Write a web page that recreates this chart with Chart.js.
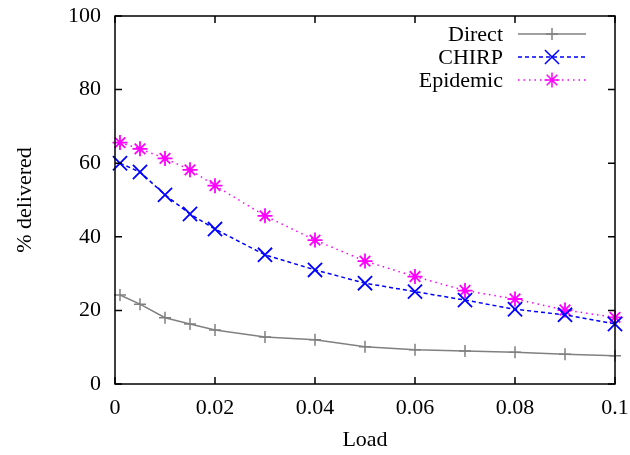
<!DOCTYPE html>
<html><head><meta charset="utf-8">
<script src="https://cdn.jsdelivr.net/npm/chart.js@4"></script>
<style>html,body{margin:0;padding:0;background:#fff}#w{width:630px;height:455px}</style>
</head><body><div id="w"><canvas id="c" width="630" height="455"></canvas></div>
<script>
const loads = [0.001, 0.005, 0.01, 0.015, 0.02, 0.03, 0.04, 0.05, 0.06, 0.07, 0.08, 0.09, 0.1];
const direct = [24.2, 21.7, 18.0, 16.3, 14.7, 12.8, 12.0, 10.1, 9.3, 9.0, 8.6, 8.1, 7.7];
const chirp = [60.0, 57.6, 51.4, 46.2, 42.1, 35.1, 31.0, 27.4, 25.1, 22.8, 20.3, 18.8, 16.3];
const epidemic = [65.6, 63.9, 61.3, 58.2, 53.9, 45.7, 39.1, 33.4, 29.2, 25.4, 23.1, 20.1, 18.1];
const xTicks = [0, 0.02, 0.04, 0.06, 0.08, 0.1];
const yTicks = [0, 20, 40, 60, 80, 100];
const seriesNames = ['Direct', 'CHIRP', 'Epidemic'];

const FONT = 'Liberation Serif';
const pts = arr => arr.map((v, i) => ({x: loads[i], y: v}));
const noPad = s => { s.paddingTop = 0; s.paddingBottom = 0; s.paddingLeft = 0; s.paddingRight = 0; };

const boxPlugin = {
  id: 'box',
  afterDatasetsDraw(chart) {
    const {ctx, chartArea: a, scales: {x, y}} = chart;
    ctx.save();
    ctx.strokeStyle = '#000';
    ctx.lineWidth = 1.5;
    ctx.strokeRect(a.left, a.top, a.right - a.left, a.bottom - a.top);
    const L = 7;
    ctx.beginPath();
    xTicks.forEach(t => {
      const px = x.getPixelForValue(t);
      ctx.moveTo(px, a.bottom); ctx.lineTo(px, a.bottom - L);
      ctx.moveTo(px, a.top); ctx.lineTo(px, a.top + L);
    });
    yTicks.forEach(t => {
      const py = y.getPixelForValue(t);
      ctx.moveTo(a.left, py); ctx.lineTo(a.left + L, py);
      ctx.moveTo(a.right, py); ctx.lineTo(a.right - L, py);
    });
    ctx.stroke();
    // legend
    ctx.font = '22px "' + FONT + '"';
    ctx.textAlign = 'right';
    ctx.textBaseline = 'middle';
    const rows = [34, 57, 80];
    chart.data.datasets.forEach((ds, i) => {
      const yy = rows[i];
      ctx.fillStyle = '#000';
      ctx.fillText(seriesNames[i], 503, yy + 1);
      ctx.strokeStyle = ds.borderColor;
      ctx.lineWidth = ds.borderWidth;
      ctx.setLineDash(ds.borderDash || []);
      ctx.beginPath(); ctx.moveTo(518, yy); ctx.lineTo(586, yy); ctx.stroke();
      ctx.setLineDash([]);
      Chart.helpers.drawPoint(ctx, {pointStyle: ds.pointStyle, radius: ds.pointRadius, borderWidth: ds.pointBorderWidth, rotation: 0}, 552, yy);
    });
    ctx.restore();
  }
};

new Chart(document.getElementById('c'), {
  type: 'line',
  data: {
    datasets: [
      {label: seriesNames[0], data: pts(direct), borderColor: '#808080', backgroundColor: '#808080', borderWidth: 1.5,
       pointStyle: 'cross', pointRadius: 6, pointBorderWidth: 1.5, pointBorderColor: '#808080', clip: false},
      {label: seriesNames[1], data: pts(chirp), borderColor: '#0000ff', backgroundColor: '#0000ff', borderWidth: 1.5, borderDash: [4, 3],
       pointStyle: 'crossRot', pointRadius: 10, pointBorderWidth: 1.8, pointBorderColor: '#0000ff', clip: false},
      {label: seriesNames[2], data: pts(epidemic), borderColor: '#ff00ff', backgroundColor: '#ff00ff', borderWidth: 1.5, borderDash: [1.5, 4],
       pointStyle: 'star', pointRadius: 7.5, pointBorderWidth: 1.8, pointBorderColor: '#ff00ff', clip: false}
    ]
  },
  options: {
    responsive: false,
    animation: false,
    layout: {padding: {left: 0, right: 15, top: 16, bottom: 0}},
    plugins: {legend: {display: false}, tooltip: {enabled: false}},
    scales: {
      x: {
        type: 'linear', min: 0, max: 0.1,
        afterBuildTicks: s => { s.ticks = xTicks.map(v => ({value: v})); },
        afterFit: s => { s.height = 71; noPad(s); },
        grid: {display: false, drawTicks: false},
        border: {display: false},
        ticks: {color: '#000', padding: 11, font: {family: FONT, size: 22}, maxRotation: 0,
                callback: v => String(v)},
        title: {display: true, text: 'Load', color: '#000', font: {family: FONT, size: 22}, padding: {top: 0, bottom: 2}}
      },
      y: {
        type: 'linear', min: 0, max: 100,
        afterBuildTicks: s => { s.ticks = yTicks.map(v => ({value: v})); },
        afterFit: s => { s.width = 115; noPad(s); },
        grid: {display: false, drawTicks: false},
        border: {display: false},
        ticks: {color: '#000', padding: 14, font: {family: FONT, size: 22}},
        title: {display: true, text: '% delivered', color: '#000', font: {family: FONT, size: 22}, padding: {top: 12, bottom: 0}}
      }
    }
  },
  plugins: [boxPlugin]
});
</script>
</body></html>
